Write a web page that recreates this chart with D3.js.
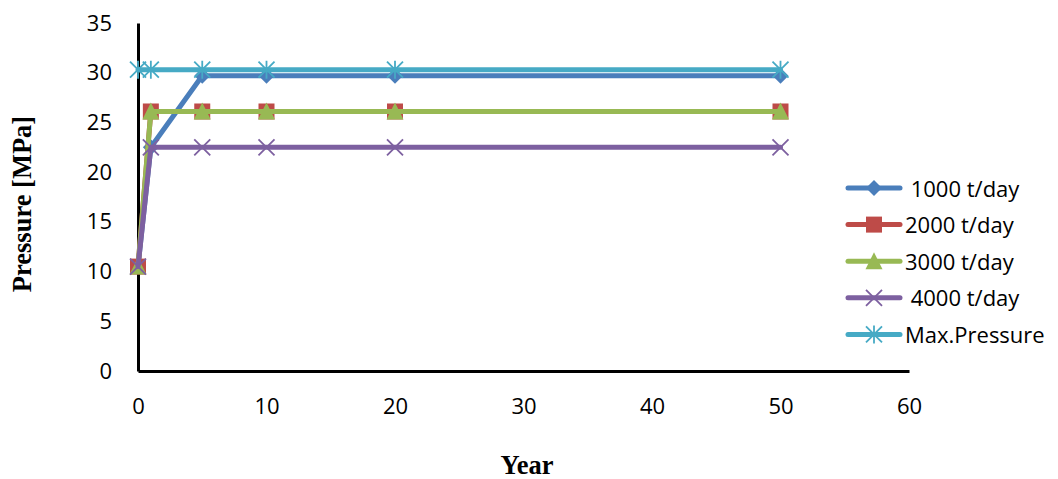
<!DOCTYPE html>
<html>
<head>
<meta charset="utf-8">
<script src="https://cdn.jsdelivr.net/npm/d3@7"></script>
<style>
  html, body { margin: 0; padding: 0; background: #fff; }
  svg { display: block; }
  .tick text { font-family: "Open Sans", Lato, sans-serif; font-size: 22px; fill: #000; }
</style>
</head>
<body>
<svg id="chart" width="1058" height="479"></svg>
<script>
// Injection pressure over time for several injection rates
const years = [0, 1, 5, 10, 20, 50];
const rate1000 = [10.5, 22.5, 29.7, 29.7, 29.7, 29.7];
const rate2000 = [10.5, 26.1, 26.1, 26.1, 26.1, 26.1];
const rate3000 = [10.5, 26.1, 26.1, 26.1, 26.1, 26.1];
const rate4000 = [10.5, 22.5, 22.5, 22.5, 22.5, 22.5];
const maxPressure = [30.3, 30.3, 30.3, 30.3, 30.3, 30.3];
const seriesNames = [" 1000 t/day", "2000 t/day", "3000 t/day", " 4000 t/day", "Max.Pressure"];
const xTicks = [0, 10, 20, 30, 40, 50, 60];
const yTicks = [0, 5, 10, 15, 20, 25, 30, 35];

const series = [
  { name: seriesNames[0], values: rate1000, color: "#4a7ebb", marker: "diamond" },
  { name: seriesNames[1], values: rate2000, color: "#be4b48", marker: "square" },
  { name: seriesNames[2], values: rate3000, color: "#98b954", marker: "triangle" },
  { name: seriesNames[3], values: rate4000, color: "#7d60a0", marker: "cross" },
  { name: seriesNames[4], values: maxPressure, color: "#46aac5", marker: "star" }
];

const svg = d3.select("#chart");
const x = d3.scaleLinear().domain([0, 60]).range([138, 909]);
const y = d3.scaleLinear().domain([0, 35]).range([371, 23]);

// axes
const gx = svg.append("g").attr("transform", `translate(0,${y(0)})`)
  .call(d3.axisBottom(x).tickValues(xTicks).tickSize(0).tickSizeOuter(0).tickPadding(27));
const gy = svg.append("g").attr("transform", `translate(${x(0)},0)`)
  .call(d3.axisLeft(y).tickValues(yTicks).tickSize(0).tickSizeOuter(0).tickPadding(26));
[gx, gy].forEach(g => g.select(".domain").attr("stroke", "#000").attr("stroke-width", 3));

// axis titles
svg.append("text")
  .attr("transform", `translate(31,204) rotate(-90)`)
  .attr("text-anchor", "middle")
  .style("font-family", "'Liberation Serif', 'Times New Roman', serif")
  .style("font-weight", "bold").style("font-size", "26.5px")
  .text("Pressure [MPa]");
svg.append("text")
  .attr("x", 527).attr("y", 474)
  .attr("text-anchor", "middle")
  .style("font-family", "'Liberation Serif', 'Times New Roman', serif")
  .style("font-weight", "bold").style("font-size", "26.5px")
  .text("Year");

// marker shapes
function drawMarker(g, type, color, cx, cy) {
  if (type === "diamond") {
    g.append("path").attr("d", `M${cx},${cy-8}L${cx+8},${cy}L${cx},${cy+8}L${cx-8},${cy}Z`).attr("fill", color);
  } else if (type === "square") {
    g.append("rect").attr("x", cx-8).attr("y", cy-8).attr("width", 16).attr("height", 16).attr("fill", color);
  } else if (type === "triangle") {
    g.append("path").attr("d", `M${cx},${cy-9}L${cx+8.5},${cy+8}L${cx-8.5},${cy+8}Z`).attr("fill", color);
  } else if (type === "cross") {
    g.append("path").attr("d", `M${cx-8},${cy-8}L${cx+8},${cy+8}M${cx-8},${cy+8}L${cx+8},${cy-8}`)
      .attr("stroke", color).attr("stroke-width", 1.8).attr("fill", "none");
  } else if (type === "star") {
    g.append("path").attr("d", `M${cx-8},${cy-8}L${cx+8},${cy+8}M${cx-8},${cy+8}L${cx+8},${cy-8}M${cx},${cy-9}L${cx},${cy+9}`)
      .attr("stroke", color).attr("stroke-width", 1.8).attr("fill", "none");
  }
}

const line = d3.line().x((d, i) => x(years[i])).y(d => y(d));

series.forEach(s => {
  const g = svg.append("g");
  g.append("path").datum(s.values).attr("d", line)
    .attr("fill", "none").attr("stroke", s.color).attr("stroke-width", 5)
    .attr("stroke-linejoin", "round").attr("stroke-linecap", "round");
  s.values.forEach((v, i) => drawMarker(g, s.marker, s.color, x(years[i]), y(v)));
});

// legend
const legend = svg.append("g");
series.forEach((s, i) => {
  const ly = 188 + i * 36.6;
  const g = legend.append("g");
  g.append("line").attr("x1", 848).attr("x2", 900).attr("y1", ly).attr("y2", ly)
    .attr("stroke", s.color).attr("stroke-width", 5).attr("stroke-linecap", "round");
  drawMarker(g, s.marker, s.color, 874, ly);
  g.append("text").attr("x", 905).attr("y", ly + 8.5)
    .attr("xml:space", "preserve")
    .style("white-space", "pre")
    .style("font-family", "'Open Sans', Lato, sans-serif").style("font-size", "22px")
    .text(s.name);
});
</script>
</body>
</html>
